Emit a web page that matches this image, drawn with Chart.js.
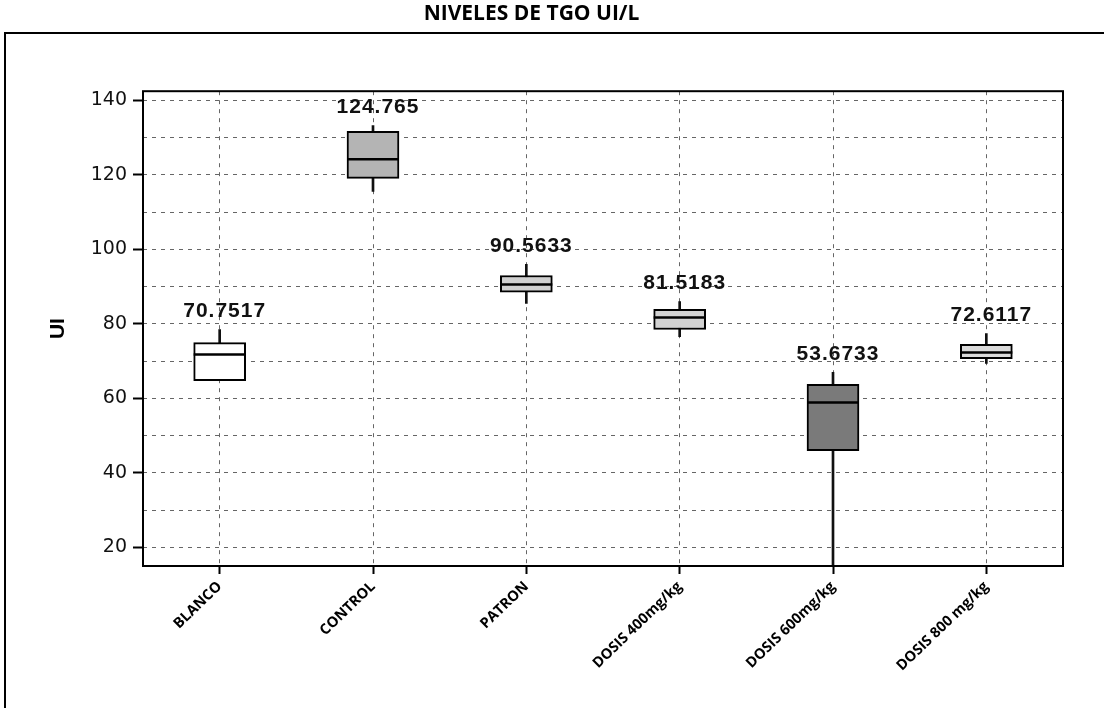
<!DOCTYPE html>
<html>
<head>
<meta charset="utf-8">
<title>NIVELES DE TGO UI/L</title>
<script src="https://cdn.jsdelivr.net/npm/chart.js@4.4.1/dist/chart.umd.min.js"></script>
<style>
  html, body { margin: 0; padding: 0; background: #fff; overflow: hidden; }
  #wrap { position: relative; width: 1104px; height: 708px; }
</style>
</head>
<body>
<div id="wrap"><canvas id="tgo"></canvas></div>
<script>
  /* === Box plot of TGO levels, drawn with floating bars === */

  var groups = ['BLANCO', 'CONTROL', 'PATRON', 'DOSIS 400mg/kg', 'DOSIS 600mg/kg', 'DOSIS 800 mg/kg'];

  // whisker ends, quartiles, medians and means (UI/L)
  var whiskerLow  = [64.8, 115.6, 85.5, 76.6, 15.0, 69.4];
  var whiskerHigh = [78.5, 133.3, 96.0, 86.0, 67.0, 77.4];
  var q1Values    = [64.8, 119.1, 88.5, 78.5, 46.0, 70.7];
  var q3Values    = [75.0, 131.7, 93.0, 83.9, 63.8, 74.5];
  var medians     = [71.8, 124.2, 90.6, 81.7, 58.9, 72.3];
  var means       = [70.7517, 124.765, 90.5633, 81.5183, 53.6733, 72.6117];

  var yTicksLabelled = [20, 40, 60, 80, 100, 120, 140];

  var boxFills = ['#ffffff', '#b4b4b4', '#cfcfcf', '#d2d2d2', '#7a7a7a', '#dadada'];

  var boxData = groups.map(function (g, i) { return [q1Values[i], q3Values[i]]; });
  var whiskerData = groups.map(function (g, i) { return [whiskerLow[i], whiskerHigh[i]]; });

  // outer frame of the figure and frame of the plot area
  var framePlugin = {
    id: 'frames',
    beforeDraw: function (chart) {
      var ctx = chart.ctx;
      ctx.save();
      ctx.strokeStyle = '#000';
      ctx.lineWidth = 2;
      ctx.strokeRect(5, 33, chart.width + 20, chart.height + 20);
      ctx.restore();
    },
    afterDraw: function (chart) {
      var a = chart.chartArea;
      var ctx = chart.ctx;
      ctx.save();
      ctx.strokeStyle = '#000';
      ctx.lineWidth = 2;
      ctx.strokeRect(a.left, a.top, a.right - a.left, a.bottom - a.top);
      ctx.restore();
    }
  };

  // median lines inside the boxes and mean labels above the whiskers
  var statsPlugin = {
    id: 'boxStats',
    afterDatasetsDraw: function (chart) {
      var ctx = chart.ctx;
      var yScale = chart.scales.y;
      var meta = chart.getDatasetMeta(0);
      ctx.save();
      meta.data.forEach(function (bar, i) {
        var half = bar.width / 2;
        var my = yScale.getPixelForValue(medians[i]);
        ctx.strokeStyle = '#000';
        ctx.lineWidth = 2.5;
        ctx.beginPath();
        ctx.moveTo(bar.x - half, my);
        ctx.lineTo(bar.x + half, my);
        ctx.stroke();

        var ty = yScale.getPixelForValue(whiskerHigh[i]) - 18;
        ctx.font = "bold 21px 'Liberation Sans', Arial, sans-serif";
        if ('letterSpacing' in ctx) ctx.letterSpacing = '1px';
        ctx.fillStyle = '#111';
        ctx.textAlign = 'center';
        ctx.textBaseline = 'middle';
        ctx.fillText(String(means[i]), bar.x + 5, ty);
      });
      ctx.restore();
    }
  };

  new Chart(document.getElementById('tgo'), {
    type: 'bar',
    data: {
      labels: groups,
      datasets: [{
        label: 'Caja',
        data: boxData,
        backgroundColor: boxFills,
        borderColor: '#000',
        borderWidth: 2,
        borderSkipped: false,
        barThickness: 52,
        grouped: false,
        order: 1,
      }, {
        label: 'Bigotes',
        data: whiskerData,
        backgroundColor: '#111',
        borderWidth: 0,
        barThickness: 2,
        grouped: false,
        order: 2,
      }],
    },
    options: {
      responsive: true,
      maintainAspectRatio: false,
      animation: false,
      layout: { padding: { left: 0, right: 41, top: 0, bottom: 0 } },
      plugins: {
        legend: { display: false },
        tooltip: { enabled: false },
        title: {
          display: true,
          text: 'NIVELES DE TGO UI/L',
          color: '#000',
          font: { family: "'Open Sans', sans-serif", size: 21, weight: 'bold' },
          padding: { top: 1, bottom: 65 },
        },
      },
      scales: {
        x: {
          offset: true,
          grid: {
            offset: false,
            color: '#666',
            lineWidth: 1,
            tickLength: 8,
            tickColor: '#000',
            tickWidth: 2,
          },
          border: { display: false, dash: [4, 5] },
          ticks: {
            color: '#000',
            maxRotation: 44,
            minRotation: 44,
            padding: 4,
            font: { family: "'Open Sans', sans-serif", size: 14.5, weight: 'bold' },
          },
          afterFit: function (scale) { scale.height = 142; },
        },
        y: {
          min: 15,
          max: 142.5,
          grid: {
            color: '#666',
            lineWidth: 1,
            tickLength: 10,
            tickWidth: 2,
            tickColor: function (c) {
              return c.tick && yTicksLabelled.indexOf(c.tick.value) !== -1 ? '#000' : 'rgba(0,0,0,0)';
            },
          },
          border: { display: false, dash: [4, 5] },
          ticks: {
            stepSize: 10,
            includeBounds: false,
            color: '#111',
            padding: 6,
            font: { family: "'DejaVu Sans', sans-serif", size: 19 },
            callback: function (v) { return yTicksLabelled.indexOf(v) !== -1 ? v : ''; },
          },
          afterBuildTicks: function (scale) {
            scale.ticks = scale.ticks.filter(function (t) { return t.value % 10 === 0; });
          },
          title: {
            display: true,
            text: 'UI',
            color: '#000',
            font: { family: "'Liberation Sans', Arial, sans-serif", size: 21, weight: 'bold' },
            padding: { top: 46, bottom: 0 },
          },
          afterFit: function (scale) { scale.width = 143; },
        },
      },
    },
    plugins: [framePlugin, statsPlugin],
  });
</script>
</body>
</html>
